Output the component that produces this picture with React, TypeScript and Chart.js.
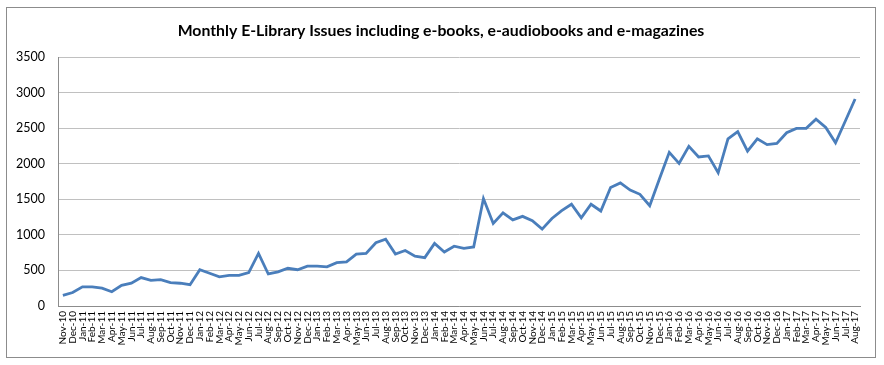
import React, { useEffect, useRef } from "react";
import { Chart, registerables } from "chart.js";

Chart.register(...registerables);

const TITLE = "Monthly E-Library Issues including e-books, e-audiobooks and e-magazines";

const categories: string[] = [
  "Nov-10", "Dec-10",
  "Jan-11", "Feb-11", "Mar-11", "Apr-11", "May-11", "Jun-11", "Jul-11", "Aug-11", "Sep-11", "Oct-11", "Nov-11", "Dec-11",
  "Jan-12", "Feb-12", "Mar-12", "Apr-12", "May-12", "Jun-12", "Jul-12", "Aug-12", "Sep-12", "Oct-12", "Nov-12", "Dec-12",
  "Jan-13", "Feb-13", "Mar-13", "Apr-13", "May-13", "Jun-13", "Jul-13", "Aug-13", "Sep-13", "Oct-13", "Nov-13", "Dec-13",
  "Jan-14", "Feb-14", "Mar-14", "Apr-14", "May-14", "Jun-14", "Jul-14", "Aug-14", "Sep-14", "Oct-14", "Nov-14", "Dec-14",
  "Jan-15", "Feb-15", "Mar-15", "Apr-15", "May-15", "Jun-15", "Jul-15", "Aug-15", "Sep-15", "Oct-15", "Nov-15", "Dec-15",
  "Jan-16", "Feb-16", "Mar-16", "Apr-16", "May-16", "Jun-16", "Jul-16", "Aug-16", "Sep-16", "Oct-16", "Nov-16", "Dec-16",
  "Jan-17", "Feb-17", "Mar-17", "Apr-17", "May-17", "Jun-17", "Jul-17", "Aug-17",
];

const issues: number[] = [
  150, 190,
  270, 270, 250, 200, 290, 320, 400, 360, 370, 330, 320, 300,
  510, 460, 410, 430, 430, 470, 740, 450, 480, 530, 510, 560,
  560, 550, 610, 620, 730, 740, 890, 940, 730, 780, 700, 680,
  880, 760, 840, 810, 830, 1510, 1160, 1310, 1210, 1260, 1200, 1080,
  1230, 1340, 1430, 1240, 1430, 1335, 1665, 1730, 1630, 1570, 1410, 1790,
  2160, 2005, 2245, 2095, 2110, 1872, 2350, 2452, 2177, 2350, 2268, 2285,
  2435, 2497, 2497, 2626, 2510, 2293, 2600, 2910,
];

const yTicks: number[] = [0, 500, 1000, 1500, 2000, 2500, 3000, 3500];

export default function App() {
  const ref = useRef<HTMLCanvasElement | null>(null);

  useEffect(() => {
    if (!ref.current) return;
    const framePlugin = {
      id: "frame",
      afterDraw(chart: any) {
        const ctx = chart.ctx;
        ctx.save();
        ctx.strokeStyle = "#8c8c8c";
        ctx.lineWidth = 1;
        ctx.strokeRect(6.5, 7.5, 869, 350);
        ctx.fillStyle = "#000";
        ctx.font = "bold 15.8px Lato";
        ctx.textAlign = "center";
        ctx.textBaseline = "middle";
        ctx.fillText(TITLE, 441, 31);
        ctx.restore();
      },
    };
    const chart = new Chart(ref.current, {
      type: "line",
      data: {
        labels: categories,
        datasets: [
          {
            data: issues,
            borderColor: "#4a7ebb",
            borderWidth: 2.8,
            pointRadius: 0,
            tension: 0,
            fill: false,
          },
        ],
      },
      options: {
        responsive: false,
        maintainAspectRatio: false,
        animation: false,
        layout: { padding: { top: 57, right: 24, left: 0, bottom: 0 } },
        plugins: {
          legend: { display: false },
          title: { display: false },
          tooltip: { enabled: false },
        },
        scales: {
          x: {
            type: "category",
            offset: true,
            grid: { display: false, drawTicks: false },
            border: { display: true, color: "#8c8c8c", width: 1 },
            ticks: {
              autoSkip: false,
              minRotation: 90,
              maxRotation: 90,
              color: "#000",
              padding: 5,
              font: { family: "Lato", size: 10 },
            },
            afterFit(scale: any) {
              scale.height = 59;
            },
          },
          y: {
            min: 0,
            max: 3500,
            afterBuildTicks(scale: any) {
              scale.ticks = yTicks.map((v) => ({ value: v }));
            },
            grid: { color: "#c0c0c0", drawTicks: false, lineWidth: 1 },
            border: { display: true, color: "#8c8c8c", width: 1 },
            ticks: {
              color: "#000",
              padding: 13,
              font: { family: "Lato", size: 12.5 },
              callback: (v: any) => String(v),
            },
            afterFit(scale: any) {
              scale.width = 58;
            },
          },
        },
      },
      plugins: [framePlugin],
    } as any);
    return () => chart.destroy();
  }, []);

  return (
    <div style={{ position: "absolute", left: 0, top: 0, width: 884, height: 365, background: "#fff" }}>
      <canvas ref={ref} width={884} height={365} />
    </div>
  );
}
